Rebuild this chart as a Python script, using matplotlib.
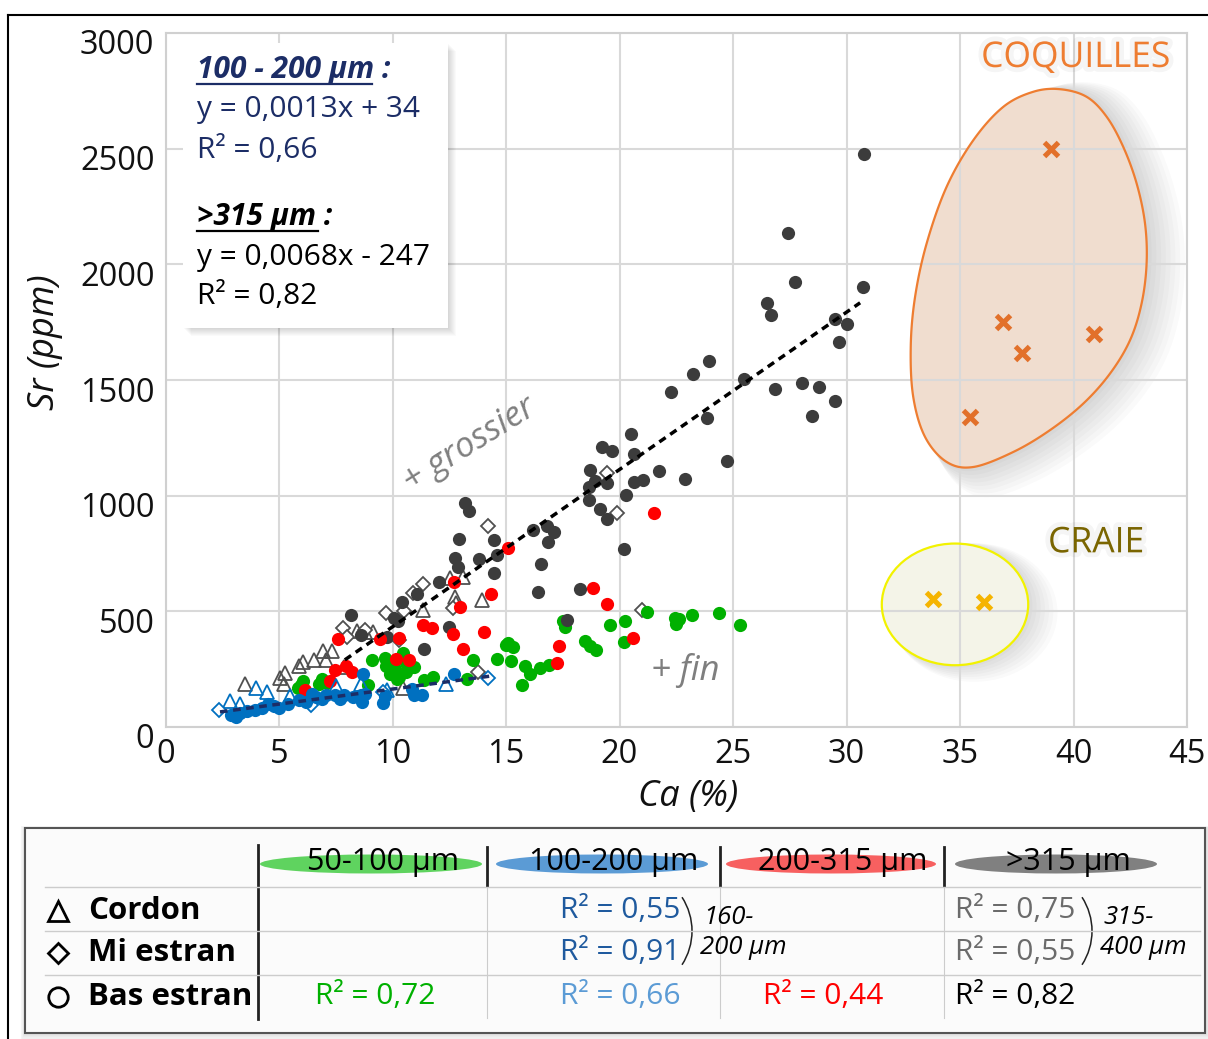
import numpy as np
import matplotlib
matplotlib.use('Agg')
import matplotlib.pyplot as plt
import matplotlib.patheffects as pe
from matplotlib.patches import Ellipse, Polygon, Rectangle, Arc
from matplotlib.transforms import ScaledTranslation

W, H = 1208, 1039
FONT = ['Open Sans', 'DejaVu Sans']
plt.rcParams['font.family'] = FONT

# ---------------- data (Ca %, Sr ppm) ----------------
green_bas = [(5.85,170),(5.95,182),(6.05,200),(6.75,185),(6.9,208),(7.1,192),(8.9,183),
             (9.1,288),(9.65,300),(9.7,265),(9.9,228),(10.1,250),(10.3,216),(10.2,209),
             (10.45,322),(10.6,275),(10.6,237),(10.95,259),(11.4,202),(11.8,218),(13.3,209),
             (13.55,288),(14.6,292),(15.2,287),(15.0,355),(15.3,346),(15.1,365),(15.85,265),
             (16.05,230),(16.5,255),(16.9,266),(15.7,180),(17.5,458),(17.6,432),(18.5,370),
             (18.7,352),(18.95,334),(19.6,439),(20.25,458),(20.2,367),(21.2,497),(22.45,473),
             (22.6,468),(22.5,444),(23.2,486),(24.4,494),(25.3,439)]
red_bas = [(6.15,160),(7.25,198),(7.45,247),(7.95,262),(8.2,238),(7.58,380),(9.45,382),
           (10.15,293),(10.72,291),(10.3,383),(11.33,439),(11.75,430),(12.65,402),(14.05,410),
           (13.1,336),(12.7,627),(12.97,520),(14.32,575),(15.1,775),(17.35,350),(17.23,275),
           (18.85,602),(19.44,530),(20.58,386),(21.54,926)]
blue_bas = [(2.9,52),(3.1,45),(3.3,60),(3.6,70),(3.95,75),(4.25,83),(4.5,98),(4.8,90),(5.0,80),
            (5.4,98),(5.9,115),(6.2,110),(6.45,144),(6.65,130),(6.9,122),(7.05,137),(7.45,140),
            (7.7,122),(7.85,137),(8.25,130),(8.6,137),(8.65,110),(8.7,230),(8.8,141),(9.6,105),
            (9.65,135),(10.85,166),(10.95,137),(11.3,140),(12.7,230)]
blue_cordon = [(2.85,112),(3.3,100),(4.0,168),(4.45,152),(5.5,135),(7.5,178),(8.6,185),
               (9.75,162),(12.35,184)]
blue_mi = [(2.35,72),(6.4,94),(9.6,152),(14.2,210)]
gray_cordon = [(3.5,185),(5.05,210),(5.25,232),(5.2,187),(5.9,262),(6.05,280),(6.55,290),
               (6.95,327),(7.35,330),(7.05,290),(7.85,260),(8.45,415),(8.8,412),(9.15,410),
               (10.45,168),(11.35,504),(12.55,643),(13.1,648),(12.75,562),(12.8,535),(13.95,548)]
gray_mi = [(7.8,428),(7.98,387),(8.8,421),(9.72,492),(10.52,500),(10.3,378),(10.9,580),
           (11.33,617),(12.66,515),(13.78,237),(14.22,868),(19.46,1097),(19.88,923),(20.97,506)]
gray_bas = [(8.15,486),(8.6,396),(9.75,390),(10.05,472),(10.25,458),(10.4,542),(11.1,575),
            (11.4,336),(12.5,432),(12.06,627),(12.87,690),(12.75,732),(12.95,812),(13.2,967),
            (13.35,933),(13.8,728),(14.45,807),(14.6,742),(14.45,664),(16.2,853),(16.8,870),
            (17.1,845),(16.86,798),(16.55,706),(16.42,583),(18.26,595),(17.67,461),(20.2,768),
            (18.64,983),(19.14,944),(19.46,901),(18.7,1113),(18.92,1064),(18.66,1038),
            (19.46,1055),(20.29,1002),(20.64,1059),(21.02,1067),(21.75,1107),(22.89,1070),
            (19.23,1211),(19.68,1193),(20.64,1179),(20.49,1268),(23.84,1336),(24.75,1150),
            (22.28,1447),(23.25,1528),(23.94,1583),(25.5,1506),(26.85,1463),(28.04,1485),
            (28.78,1470),(29.51,1410),(28.49,1343),(26.48,1835),(26.67,1783),(29.51,1762),
            (30.04,1740),(29.68,1663),(27.44,2136),(27.73,1923),(30.71,1903),(30.77,2476)]
coquilles = [(39.0,2500),(36.9,1751),(37.75,1617),(40.9,1701),(35.45,1338)]
craie = [(33.8,555),(36.05,540)]

# regressions (Sr = a*Ca(ppm) + b), drawn between x0 and x1 (Ca %)
fit_100_200 = (0.0013, 34, 2.4, 14.4)
fit_315 = (0.0068, -247, 7.9, 30.6)

# outline of the "COQUILLES" field (Ca %, Sr ppm)
coq_outline = [(39.41,2757),(40.58,2724),(41.46,2638),(42.19,2508),(42.78,2350),(43.15,2177),
               (43.22,2004),(43.0,1831),(42.49,1672),(41.61,1528),(40.43,1398),(38.96,1283),
               (37.35,1189),(35.59,1124),(34.41,1146),(33.46,1254),(32.94,1427),(32.83,1643),
               (33.02,1859),(33.53,2090),(34.41,2335),(35.59,2537),(36.91,2681),(38.23,2746)]
craie_field = (34.78, 530, 6.45, 526)

xticks = [0,5,10,15,20,25,30,35,40,45]
yticks = [0,500,1000,1500,2000,2500,3000]

C_GREEN, C_RED, C_BLUE, C_GRAY = '#00b000', '#ff0000', '#0070c0', '#3c3c3c'
C_NAVY = '#1c2d66'

def closed_spline(pts, n=24):
    P = np.asarray(pts, float)
    m = len(P)
    t = np.linspace(0, 1, n, endpoint=False)[:, None]
    out = []
    for i in range(m):
        p0, p1, p2, p3 = P[(i-1) % m], P[i], P[(i+1) % m], P[(i+2) % m]
        out.append(0.5*((2*p1) + (-p0+p2)*t + (2*p0-5*p1+4*p2-p3)*t**2
                        + (-p0+3*p1-3*p2+p3)*t**3))
    return np.vstack(out)

fig = plt.figure(figsize=(W/100, H/100), dpi=100)
fig.patch.set_facecolor('white')

L, R, T, B = 165.5, 1187, 33, 727
ax = fig.add_axes([L/W, 1-B/H, (R-L)/W, (B-T)/H])
ax.set_xlim(0, 45)
ax.set_ylim(0, 3000)
ax.set_xticks(xticks)
ax.set_yticks(yticks)
ax.grid(True, color='#d9d9d9', lw=1.5)
ax.set_axisbelow(True)
for s in ax.spines.values():
    s.set_color('#d0d0d0')
    s.set_linewidth(1.5)
ax.tick_params(length=0, labelsize=23.5, pad=8, colors='#111111')
shift = ScaledTranslation(0, -9/100, fig.dpi_scale_trans)
for lab in ax.get_yticklabels():
    lab.set_transform(lab.get_transform() + shift)

# fields (opaque fill below the grid, soft shadow below the fill)
coq = closed_spline(coq_outline)
ctr = coq.mean(axis=0)
for k in range(1, 9):
    sc = 1 + 0.012*k
    sh = (coq - ctr)*np.array([sc, sc]) + ctr + np.array([0.15*k, -6*k])
    ax.add_patch(Polygon(sh, closed=True, facecolor='black', alpha=0.018,
                         edgecolor='none', zorder=0.1))
ax.add_patch(Polygon(coq, closed=True, facecolor='#f0ddcf', edgecolor='none', zorder=0.3))
ax.add_patch(Polygon(coq, closed=True, facecolor='none', edgecolor='#ee7d31', lw=1.6, zorder=1.2))
cx, cy, cw, ch = craie_field
for k in range(1, 8):
    ax.add_patch(Ellipse((cx + 0.12*k, cy - 5*k), cw*(1+0.02*k), ch*(1+0.02*k),
                         facecolor='black', alpha=0.018, edgecolor='none', zorder=0.1))
ax.add_patch(Ellipse((cx, cy), cw, ch, facecolor='#f4f4e8', edgecolor='none', zorder=0.3))
ax.add_patch(Ellipse((cx, cy), cw, ch, facecolor='none', edgecolor='#f2f200', lw=1.6, zorder=1.2))

def pts(p):
    a = np.asarray(p, float)
    return a[:, 0], a[:, 1]

ms_c = 9.5
ms_t = 10.5
ms_d = 7.3
x, y = pts(gray_cordon); ax.plot(x, y, '^', ms=ms_t, mfc='none', mec='#505050', mew=1.3, ls='none', zorder=2)
x, y = pts(gray_mi); ax.plot(x, y, 'D', ms=ms_d, mfc='white', mec='#505050', mew=1.3, ls='none', zorder=2)
x, y = pts(green_bas); ax.plot(x, y, 'o', ms=ms_c, color=C_GREEN, mec='none', ls='none', zorder=3)
x, y = pts(gray_bas); ax.plot(x, y, 'o', ms=ms_c, color=C_GRAY, mec='none', ls='none', zorder=3.2)
x, y = pts(red_bas); ax.plot(x, y, 'o', ms=ms_c, color=C_RED, mec='none', ls='none', zorder=3.4)
x, y = pts(blue_cordon); ax.plot(x, y, '^', ms=ms_t, mfc='none', mec=C_BLUE, mew=1.3, ls='none', zorder=3.5)
x, y = pts(blue_mi); ax.plot(x, y, 'D', ms=ms_d, mfc='white', mec=C_BLUE, mew=1.3, ls='none', zorder=3.5)
x, y = pts(blue_bas); ax.plot(x, y, 'o', ms=ms_c, color=C_BLUE, mec='none', ls='none', zorder=3.6)

x, y = pts(coquilles); ax.plot(x, y, 'x', ms=10.5, mew=3.6, color='#e2702a', ls='none', zorder=4)
x, y = pts(craie); ax.plot(x, y, 'x', ms=10.5, mew=3.6, color='#f5b400', ls='none', zorder=4)

for (a, b, x0, x1), col in [(fit_100_200, C_NAVY), (fit_315, '#000000')]:
    xs = np.array([x0, x1])
    ax.plot(xs, a*xs*1e4 + b, color=col, lw=2.5, dashes=(2.2, 1.6), zorder=5)

glow = [pe.withStroke(linewidth=7, foreground='#000000', alpha=0.04)]
ax.text(13.4, 1218, '+ grossier', rotation=32, fontsize=25, style='italic', color='#7f7f7f',
        ha='center', va='center')
ax.text(22.9, 245, '+ fin', fontsize=25, style='italic', color='#7f7f7f', ha='center', va='center')
ax.text(40.1, 2892, 'COQUILLES', fontsize=25.5, color='#ee7d31', ha='center', va='center',
        path_effects=glow)
ax.text(41.0, 794, 'CRAIE', fontsize=25.5, color='#7a6500', ha='center', va='center',
        path_effects=glow)

# ---------------- overlay in pixel coordinates ----------------
ov = fig.add_axes([0, 0, 1, 1], facecolor='none')
ov.set_xlim(0, W)
ov.set_ylim(H, 0)
ov.axis('off')
ov.set_zorder(5)

# frame of whole figure
ov.plot([8, 8], [15, H], color='black', lw=1.5)
ov.plot([8, W], [15, 15], color='black', lw=1.5)

# axis titles
ov.text(45, 342, 'Sr (ppm)', rotation=90, fontsize=26, style='italic', ha='center', va='center', color='#111111')
ov.text(688, 797, 'Ca (%)', fontsize=26, style='italic', ha='center', va='center', color='#111111')

# equation box
for k in range(1, 9):
    ov.add_patch(Rectangle((183+k, 43+k), 265, 285, facecolor='black', alpha=0.02, edgecolor='none'))
ov.add_patch(Rectangle((183, 43), 265, 285, facecolor='white', edgecolor='none'))
tx = 197
fs_box = 21.5
ov.text(tx, 70, '100 - 200 µm :', fontsize=fs_box, weight='bold', style='italic', color=C_NAVY, va='center')
ov.plot([197, 372], [84, 84], color=C_NAVY, lw=1.6)
ov.text(tx, 110, 'y = 0,0013x + 34', fontsize=fs_box, color=C_NAVY, va='center')
ov.text(tx, 150, 'R² = 0,66', fontsize=fs_box, color=C_NAVY, va='center')
ov.text(tx, 217, '>315 µm :', fontsize=fs_box, weight='bold', style='italic', color='black', va='center')
ov.plot([197, 318], [231, 231], color='black', lw=1.6)
ov.text(tx, 257, 'y = 0,0068x - 247', fontsize=fs_box, color='black', va='center')
ov.text(tx, 297, 'R² = 0,82', fontsize=fs_box, color='black', va='center')

# legend table
for k in range(1, 8):
    ov.add_patch(Rectangle((25-k*0.6, 828-k*0.3), 1180+k*1.8, 205+k*1.4, facecolor='black',
                           alpha=0.02, edgecolor='none'))
ov.add_patch(Rectangle((25, 828), 1180, 205, facecolor='#fbfbfb', edgecolor='#555555', lw=1.5))

heads = [('50-100 µm', 371, '#5fd35f', 222), ('100-200 µm', 602, '#5b9bd5', 212),
         ('200-315 µm', 831, '#f76060', 210), ('>315 µm', 1056, '#808080', 202)]
for lab, xc, col, wd in heads:
    ov.add_patch(Ellipse((xc, 864), wd, 19, facecolor=col, edgecolor='none'))
    ov.text(xc + 12, 862, lab, fontsize=22, ha='center', va='center', color='black')
for xv in [487, 720, 944]:
    ov.plot([xv, xv], [847, 886], color='#222222', lw=2)
    ov.plot([xv, xv], [887, 1018], color='#cccccc', lw=0.8)
ov.plot([258, 258], [845, 1019], color='#222222', lw=2)
for yv in [887, 931, 975]:
    ov.plot([45, 1200], [yv, yv], color='#cccccc', lw=1)

rows = [('Cordon', '^', 911), ('Mi estran', 'D', 953), ('Bas estran', 'o', 997)]
for lab, mk, yc in rows:
    msz = {'^': 15, 'D': 10, 'o': 14}[mk]
    ov.plot([58], [yc], mk, ms=msz, mfc='none', mec='black', mew=2)
    ov.text(88, yc, lab, fontsize=22.5, weight='bold', ha='left', va='center', color='black')

cells = [(560, 911, 'R² = 0,55', '#1f5a9e'), (955, 911, 'R² = 0,75', '#6b6b6b'),
         (560, 953, 'R² = 0,91', '#1f5a9e'), (955, 953, 'R² = 0,55', '#6b6b6b'),
         (315, 997, 'R² = 0,72', C_GREEN), (560, 997, 'R² = 0,66', '#5b9bd5'),
         (763, 997, 'R² = 0,44', C_RED), (955, 997, 'R² = 0,82', 'black')]
for xc, yc, s, col in cells:
    ov.text(xc, yc, s, fontsize=21.5, ha='left', va='center', color=col)

for xp in [688, 1088]:
    ov.add_patch(Arc((xp - 58, 931), 2*62, 2*62, theta1=-33, theta2=33, color='#222222', lw=1.1))
for xl, t1, t2 in [(703, '160-', '200 µm'), (1103, '315-', '400 µm')]:
    ov.text(xl, 917, t1, fontsize=18.5, style='italic', ha='left', va='center', color='black')
    ov.text(xl - 3, 948, t2, fontsize=18.5, style='italic', ha='left', va='center', color='black')

fig.savefig('out.png', dpi=100)
